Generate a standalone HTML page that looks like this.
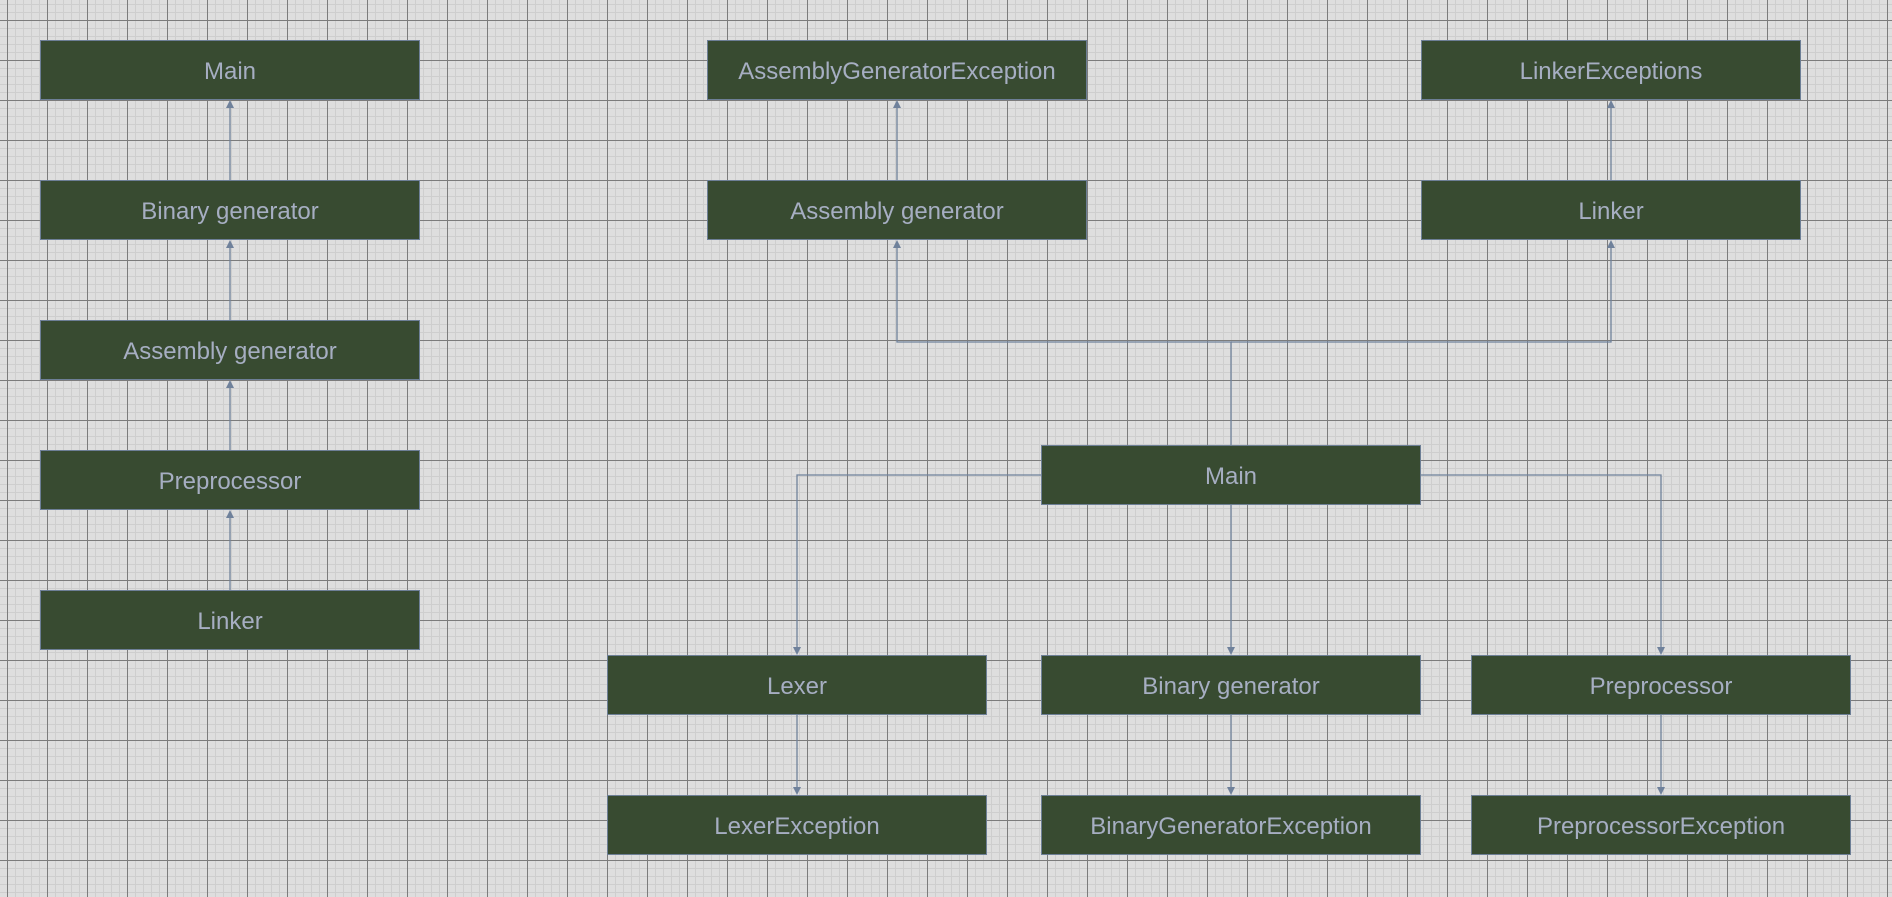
<!DOCTYPE html>
<html><head><meta charset="utf-8"><style>
html,body{margin:0;padding:0;}
body{width:1892px;height:897px;overflow:hidden;background-color:#dedede;
background-image:
linear-gradient(to right,#7c7c7c 1px,transparent 1px),
linear-gradient(to bottom,#7c7c7c 1px,transparent 1px),
linear-gradient(to right,#cecece 1px,transparent 1px),
linear-gradient(to bottom,#cecece 1px,transparent 1px);
background-size:40px 40px,40px 40px,8px 8px,8px 8px;
background-position:7px 0,0 20px,7px 0,0 4px;position:relative;}
.b{position:absolute;width:380px;height:60px;background:#384b31;border:1px solid #6d7f96;box-sizing:border-box;
color:#a6aec2;font:24px "Liberation Sans",sans-serif;display:flex;align-items:center;justify-content:center;padding-top:3px;}
svg{position:absolute;left:0;top:0;}
</style></head><body>
<svg width="1892" height="897">
<g stroke="#6f819b" stroke-width="1.3" fill="none">
<path d="M230,180 V106"/><path d="M230,320 V246"/><path d="M230,450 V386"/><path d="M230,590 V516"/>
<path d="M897,180 V106"/><path d="M1611,180 V106"/>
<path d="M1231,445 V342 H897 V246"/><path d="M1231,342 H1611 V246"/>
<path d="M1041,475 H797 V648"/><path d="M1231,505 V648"/><path d="M1421,475 H1661 V648"/>
<path d="M797,715 V788"/><path d="M1231,715 V788"/><path d="M1661,715 V788"/>
</g>
<g fill="#6f819b">
<path d="M226,108 L230,100 L234,108Z"/><path d="M226,248 L230,240 L234,248Z"/><path d="M226,388 L230,380 L234,388Z"/><path d="M226,518 L230,510 L234,518Z"/>
<path d="M893,108 L897,100 L901,108Z"/><path d="M1607,108 L1611,100 L1615,108Z"/>
<path d="M893,248 L897,240 L901,248Z"/><path d="M1607,248 L1611,240 L1615,248Z"/>
<path d="M793,647 L797,655 L801,647Z"/><path d="M1227,647 L1231,655 L1235,647Z"/><path d="M1657,647 L1661,655 L1665,647Z"/>
<path d="M793,787 L797,795 L801,787Z"/><path d="M1227,787 L1231,795 L1235,787Z"/><path d="M1657,787 L1661,795 L1665,787Z"/>
</g></svg>
<div class="b" style="left:40px;top:40px">Main</div>
<div class="b" style="left:40px;top:180px">Binary generator</div>
<div class="b" style="left:40px;top:320px">Assembly generator</div>
<div class="b" style="left:40px;top:450px">Preprocessor</div>
<div class="b" style="left:40px;top:590px">Linker</div>
<div class="b" style="left:707px;top:40px">AssemblyGeneratorException</div>
<div class="b" style="left:707px;top:180px">Assembly generator</div>
<div class="b" style="left:1421px;top:40px">LinkerExceptions</div>
<div class="b" style="left:1421px;top:180px">Linker</div>
<div class="b" style="left:1041px;top:445px">Main</div>
<div class="b" style="left:607px;top:655px">Lexer</div>
<div class="b" style="left:1041px;top:655px">Binary generator</div>
<div class="b" style="left:1471px;top:655px">Preprocessor</div>
<div class="b" style="left:607px;top:795px">LexerException</div>
<div class="b" style="left:1041px;top:795px">BinaryGeneratorException</div>
<div class="b" style="left:1471px;top:795px">PreprocessorException</div>
</body></html>
